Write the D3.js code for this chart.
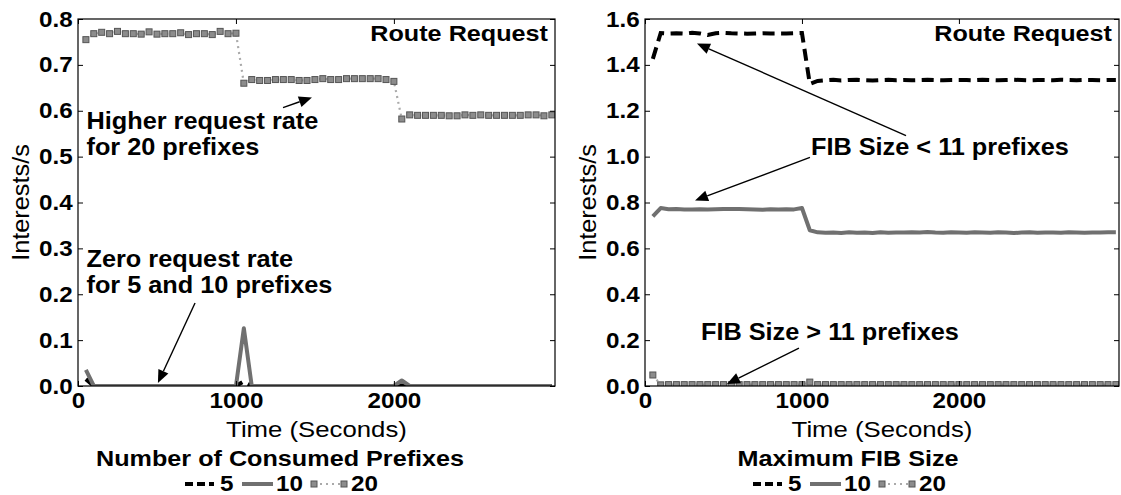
<!DOCTYPE html>
<html><head><meta charset="utf-8">
<script src="https://cdn.jsdelivr.net/npm/d3@7"></script>
<style>
html,body{margin:0;padding:0;background:#fff;}
svg{display:block;font-family:"Liberation Sans",Arial,Helvetica,sans-serif;}
</style></head>
<body>
<svg id="chart" width="1121" height="495"></svg>
<script>
// ---------- DATA ----------
const time = [50,100,150,200,250,300,350,400,450,500,550,600,650,700,750,800,850,900,950,1000,
  1050,1100,1150,1200,1250,1300,1350,1400,1450,1500,1550,1600,1650,1700,1750,1800,1850,1900,1950,2000,
  2050,2100,2150,2200,2250,2300,2350,2400,2450,2500,2550,2600,2650,2700,2750,2800,2850,2900,2950,3000];
const xTicks = [0,1000,2000];
const seriesNames = ["5","10","20"];

// Left panel: Number of Consumed Prefixes
const leftTicksY = [0.0,0.1,0.2,0.3,0.4,0.5,0.6,0.7,0.8];
const left5 = [0.015,0,0,0,0,0,0,0,0,0,0,0,0,0,0,0,0,0,0,0,
  0.01,0,0,0,0,0,0,0,0,0,0,0,0,0,0,0,0,0,0,0,
  0,0,0,0,0,0,0,0,0,0,0,0,0,0,0,0,0,0,0,0];
const left10 = [0.035,0,0,0,0,0,0,0,0,0,0,0,0,0,0,0,0,0,0,0,
  0.126,0,0,0,0,0,0,0,0,0,0,0,0,0,0,0,0,0,0,0,
  0.012,0,0,0,0,0,0,0,0,0,0,0,0,0,0,0,0,0,0,0];
const left20 = [0.755,0.768,0.771,0.768,0.773,0.768,0.768,0.767,0.772,0.767,0.768,0.768,0.770,0.766,0.768,0.768,0.766,0.773,0.768,0.769,
  0.660,0.668,0.666,0.666,0.668,0.668,0.668,0.666,0.666,0.668,0.670,0.668,0.668,0.670,0.670,0.670,0.670,0.670,0.668,0.664,
  0.582,0.591,0.590,0.590,0.590,0.590,0.589,0.589,0.591,0.590,0.591,0.590,0.590,0.590,0.590,0.590,0.591,0.591,0.589,0.591];

// Right panel: Maximum FIB Size
const rightTicksY = [0.0,0.2,0.4,0.6,0.8,1.0,1.2,1.4,1.6];
const right5 = [1.426,1.539,1.537,1.538,1.536,1.540,1.537,1.530,1.538,1.540,1.538,1.537,1.536,1.537,1.538,1.537,1.537,1.537,1.538,1.539,
  1.317,1.330,1.333,1.335,1.332,1.334,1.335,1.333,1.332,1.334,1.335,1.333,1.334,1.333,1.334,1.335,1.334,1.333,1.334,1.334,
  1.334,1.333,1.335,1.334,1.333,1.334,1.335,1.334,1.333,1.334,1.334,1.333,1.335,1.334,1.333,1.334,1.334,1.333,1.334,1.334];
const right10 = [0.740,0.776,0.771,0.772,0.770,0.770,0.771,0.770,0.771,0.772,0.772,0.772,0.771,0.770,0.768,0.771,0.770,0.771,0.770,0.776,
  0.679,0.670,0.668,0.669,0.667,0.670,0.668,0.669,0.667,0.670,0.668,0.669,0.669,0.670,0.669,0.671,0.669,0.668,0.670,0.669,
  0.668,0.670,0.669,0.668,0.670,0.669,0.667,0.669,0.670,0.668,0.669,0.669,0.668,0.670,0.669,0.668,0.669,0.669,0.670,0.670];
const right20 = [0.048,0.005,0.006,0.006,0.006,0.006,0.006,0.006,0.006,0.006,0.006,0.006,0.006,0.006,0.006,0.006,0.006,0.006,0.006,0.006,
  0.017,0.006,0.006,0.006,0.006,0.006,0.006,0.006,0.006,0.006,0.006,0.006,0.006,0.006,0.006,0.006,0.006,0.006,0.006,0.006,
  0.006,0.006,0.006,0.006,0.006,0.006,0.006,0.006,0.006,0.006,0.006,0.006,0.006,0.006,0.006,0.006,0.006,0.006,0.006,0.006];

// ---------- DRAW ----------
const svg = d3.select("#chart");
const FONT_SX = 1.1;
const GRAY = "#707070";

function txt(g, x, y, s, o) {
  o = o || {};
  return g.append("text")
    .attr("transform", `translate(${x},${y})` + (o.rotate ? ` rotate(${o.rotate})` : "") + ` scale(${o.sx || FONT_SX},1)`)
    .attr("text-anchor", o.anchor || "start")
    .attr("font-size", o.size || 22)
    .attr("font-weight", o.weight || "bold")
    .attr("fill", "#000")
    .text(s);
}

function arrow(g, x1, y1, x2, y2) {
  const dx = x2 - x1, dy = y2 - y1, L = Math.hypot(dx, dy);
  const ux = dx / L, uy = dy / L, hl = 13, hw = 5.5;
  const bx = x2 - ux * hl, by = y2 - uy * hl;
  g.append("line").attr("x1", x1).attr("y1", y1).attr("x2", bx).attr("y2", by)
    .attr("stroke", "#000").attr("stroke-width", 1.4);
  g.append("path")
    .attr("d", `M${x2},${y2}L${bx - uy * hw},${by + ux * hw}L${bx + uy * hw},${by - ux * hw}Z`)
    .attr("fill", "#000");
}

function panel(cfg) {
  const g = svg.append("g");
  const x = d3.scaleLinear().domain([0, 3020]).range([cfg.x0, cfg.x1]);
  const y = d3.scaleLinear().domain([0, cfg.ymax]).range([386, 19]);
  const fmt = d3.format(".1f");

  const clipId = "clip" + cfg.id;
  svg.append("clipPath").attr("id", clipId).append("rect")
    .attr("x", cfg.x0).attr("y", 19).attr("width", cfg.x1 - cfg.x0).attr("height", 386 - 19);

  const plot = g.append("g").attr("clip-path", `url(#${clipId})`);
  const line = d3.line().x((d, i) => x(time[i])).y(d => y(d));

  plot.append("path").datum(cfg.s5).attr("d", line).attr("fill", "none")
    .attr("stroke", "#000").attr("stroke-width", 4).attr("stroke-dasharray", "12,6.5");
  plot.append("path").datum(cfg.s10).attr("d", line).attr("fill", "none")
    .attr("stroke", GRAY).attr("stroke-width", 4).attr("stroke-linejoin", "round");
  plot.append("path").datum(cfg.s20).attr("d", line).attr("fill", "none")
    .attr("stroke", "#aaaaaa").attr("stroke-width", 2.2).attr("stroke-dasharray", "2,4");
  plot.selectAll("rect.m").data(cfg.s20).enter().append("rect").attr("class", "m")
    .attr("x", (d, i) => x(time[i]) - 3).attr("y", d => y(d) - 3)
    .attr("width", 6).attr("height", 6)
    .attr("fill", "#8c8c8c").attr("stroke", "#555").attr("stroke-width", 1);

  const axL = g.append("g").attr("transform", `translate(${cfg.x0},0)`)
    .call(d3.axisLeft(y).tickValues(cfg.yTicks).tickFormat(fmt).tickSize(-5).tickPadding(4.8));
  const axR = g.append("g").attr("transform", `translate(${cfg.x1},0)`)
    .call(d3.axisRight(y).tickValues(cfg.yTicks).tickFormat("").tickSize(-5));
  const axB = g.append("g").attr("transform", `translate(0,386)`)
    .call(d3.axisBottom(x).tickValues(xTicks).tickFormat(d3.format("d")).tickSize(-5).tickPadding(6.5));
  const axT = g.append("g").attr("transform", `translate(0,19)`)
    .call(d3.axisTop(x).tickValues(xTicks).tickFormat("").tickSize(-5));
  [axL, axR, axB, axT].forEach(a => {
    a.select(".domain").remove();
    a.selectAll(".tick line").attr("stroke", "#000").attr("stroke-width", 1);
    a.selectAll("text").attr("font-size", 22).attr("font-weight", "bold")
      .attr("fill", "#000").attr("font-family", "'Liberation Sans',Arial,sans-serif")
      .attr("transform", `scale(${FONT_SX},1)`);
  });
  g.append("rect").attr("x", cfg.x0).attr("y", 19).attr("width", cfg.x1 - cfg.x0).attr("height", 386 - 19)
    .attr("fill", "none").attr("stroke", "#000").attr("stroke-width", 1.2);

  txt(g, cfg.ylabX, 202.5, "Interests/s", { size: 23, weight: "normal", anchor: "middle", rotate: -90 });
  txt(g, (cfg.x0 + cfg.x1) / 2, 437, "Time (Seconds)", { size: 23, weight: "normal", anchor: "middle", sx: 1.12 });
  txt(g, cfg.x1 - 7, 40.7, "Route Request", { size: 22.5, anchor: "end", sx: 1.12 });

  const lc = cfg.legendX;
  txt(g, lc, 466, cfg.legendTitle, { size: 22.5, anchor: "middle", sx: 1.12 });
  const ly = 484;
  g.append("line").attr("x1", lc - 95).attr("x2", lc - 66).attr("y1", ly).attr("y2", ly)
    .attr("stroke", "#000").attr("stroke-width", 4).attr("stroke-dasharray", "8,4");
  txt(g, lc - 60, 491, seriesNames[0], { size: 22 });
  g.append("line").attr("x1", lc - 38).attr("x2", lc - 7).attr("y1", ly).attr("y2", ly)
    .attr("stroke", GRAY).attr("stroke-width", 4);
  txt(g, lc - 4, 491, seriesNames[1], { size: 22 });
  g.append("line").attr("x1", lc + 34).attr("x2", lc + 64).attr("y1", ly).attr("y2", ly)
    .attr("stroke", "#aaaaaa").attr("stroke-width", 2.2).attr("stroke-dasharray", "2,4");
  [lc + 34, lc + 64].forEach(cx => g.append("rect").attr("x", cx - 3).attr("y", ly - 3)
    .attr("width", 6).attr("height", 6).attr("fill", "#8c8c8c").attr("stroke", "#555").attr("stroke-width", 1));
  txt(g, lc + 71, 491, seriesNames[2], { size: 22 });

  cfg.notes.forEach(n => txt(g, n.x, n.y, n.t, { size: 23, sx: 1.1 }));
  cfg.arrows.forEach(a => arrow(g, x(a[0]), y(a[1]), x(a[2]), y(a[3])));
}

panel({
  id: "L", x0: 78, x1: 555, ymax: 0.8, yTicks: leftTicksY, ylabX: 29,
  s5: left5, s10: left10, s20: left20,
  legendX: 280, legendTitle: "Number of Consumed Prefixes",
  notes: [
    { x: 86.5, y: 129, t: "Higher request rate" },
    { x: 86.5, y: 155, t: "for 20 prefixes" },
    { x: 86.5, y: 267, t: "Zero request rate" },
    { x: 86.5, y: 293, t: "for 5 and 10 prefixes" }
  ],
  arrows: [[1298, 0.607, 1481, 0.629], [741, 0.181, 506, 0.0065]]
});

panel({
  id: "R", x0: 645, x1: 1119, ymax: 1.6, yTicks: rightTicksY, ylabX: 596,
  s5: right5, s10: right10, s20: right20,
  legendX: 848, legendTitle: "Maximum FIB Size",
  notes: [
    { x: 811, y: 155, t: "FIB Size < 11 prefixes" },
    { x: 701, y: 340, t: "FIB Size > 11 prefixes" }
  ],
  arrows: [[1663, 1.092, 331, 1.493], [1051, 0.9965, 319, 0.809], [981, 0.165, 522, 0.0087]]
});
</script>
</body></html>
